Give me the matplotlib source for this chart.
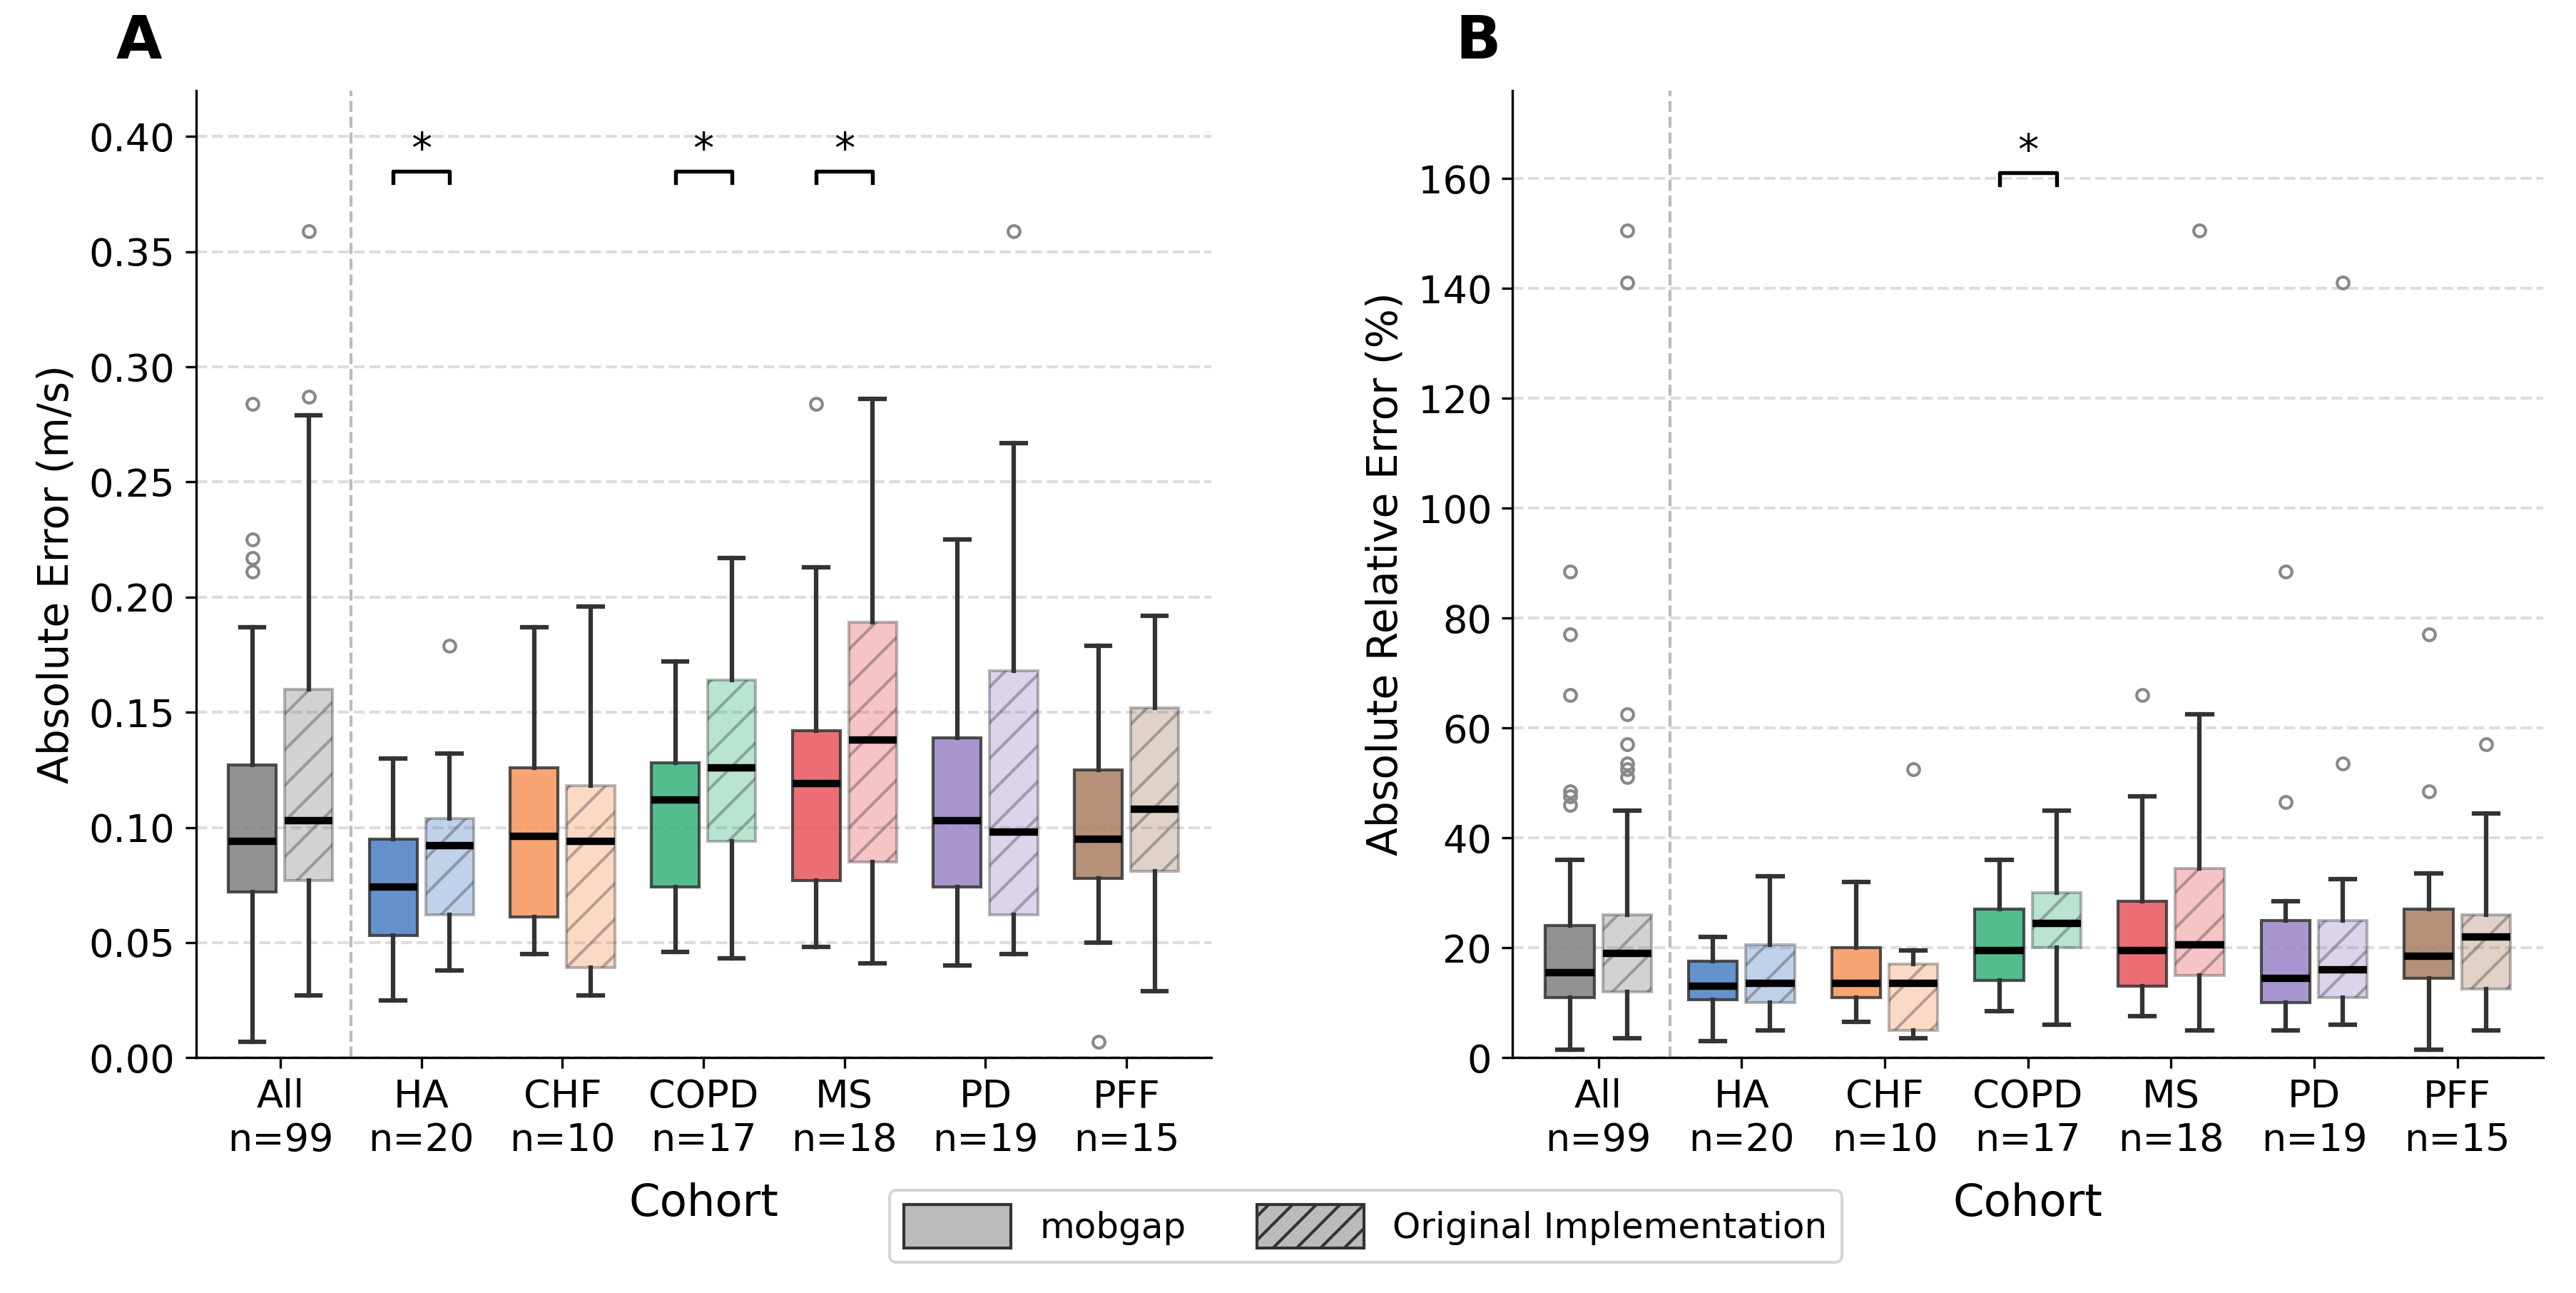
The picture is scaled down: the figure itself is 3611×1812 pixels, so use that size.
import matplotlib.pyplot as plt
from matplotlib.patches import Patch

cohorts = ["All", "HA", "CHF", "COPD", "MS", "PD", "PFF"]
counts = [99, 20, 10, 17, 18, 19, 15]
colors = ["#7f7f7f", "#4a7fc1", "#f6955a", "#35b27a", "#e8555d", "#9a84c6", "#a87e62"]

# [whislo, q1, med, q3, whishi]
abs_mobgap = [[0.007, 0.072, 0.094, 0.127, 0.187], [0.025, 0.053, 0.074, 0.095, 0.130],
              [0.045, 0.061, 0.096, 0.126, 0.187], [0.046, 0.074, 0.112, 0.128, 0.172],
              [0.048, 0.077, 0.119, 0.142, 0.213], [0.040, 0.074, 0.103, 0.139, 0.225],
              [0.050, 0.078, 0.095, 0.125, 0.179]]
abs_mobgap_fl = [[0.211, 0.217, 0.225, 0.284], [], [], [], [0.284], [], [0.007]]
abs_orig = [[0.027, 0.077, 0.103, 0.160, 0.279], [0.038, 0.062, 0.092, 0.104, 0.132],
            [0.027, 0.039, 0.094, 0.118, 0.196], [0.043, 0.094, 0.126, 0.164, 0.217],
            [0.041, 0.085, 0.138, 0.189, 0.286], [0.045, 0.062, 0.098, 0.168, 0.267],
            [0.029, 0.081, 0.108, 0.152, 0.192]]
abs_orig_fl = [[0.287, 0.359], [0.179], [], [], [], [0.359], []]

rel_mobgap = [[1.5, 11, 15.5, 24, 36], [3, 10.5, 13, 17.5, 22], [6.5, 11, 13.5, 20, 32],
              [8.5, 14, 19.5, 27, 36], [7.5, 13, 19.5, 28.5, 47.5], [5, 10, 14.5, 25, 28.5],
              [1.5, 14.5, 18.5, 27, 33.5]]
rel_mobgap_fl = [[46, 47.5, 48.5, 66, 77, 88.5], [], [], [], [66], [46.5, 88.5], [48.5, 77]]
rel_orig = [[3.5, 12, 19, 26, 45], [5, 10, 13.5, 20.5, 33], [3.5, 5, 13.5, 17, 19.5],
            [6, 20, 24.5, 30, 45], [5, 15, 20.5, 34.5, 62.5], [6, 11, 16, 25, 32.5],
            [5, 12.5, 22, 26, 44.5]]
rel_orig_fl = [[51, 52.5, 53.5, 57, 62.5, 141, 150.5], [], [52.5], [], [150.5], [53.5, 141], [57]]

abs_sig = ["HA", "COPD", "MS"]
rel_sig = ["COPD"]


def stats(vals, fl):
    return [dict(whislo=v[0], q1=v[1], med=v[2], q3=v[3], whishi=v[4], fliers=f)
            for v, f in zip(vals, fl)]


def draw(ax, m, mfl, o, ofl, sig, sig_y, ylim, ylabel, ticks):
    for data, fl, off, alpha, hatch in [(m, mfl, -0.2, 0.85, None), (o, ofl, 0.2, 0.35, "//")]:
        pos = [i + off for i in range(len(cohorts))]
        bp = ax.bxp(stats(data, fl), positions=pos, widths=0.34, patch_artist=True,
                    medianprops=dict(color="black", linewidth=2.5),
                    whiskerprops=dict(color="#333333", linewidth=1.5),
                    capprops=dict(color="#333333", linewidth=1.5),
                    flierprops=dict(marker="o", markersize=4, markerfacecolor="none",
                                    markeredgecolor="#888888"))
        for b, c in zip(bp["boxes"], colors):
            b.set_facecolor(c)
            b.set_alpha(alpha)
            b.set_edgecolor("#333333")
            if hatch:
                b.set_hatch(hatch)
    ax.axvline(0.5, color="#bbbbbb", linestyle="--", linewidth=1)
    h = (ylim[1] - ylim[0]) * 0.012
    for s in sig:
        i = cohorts.index(s)
        ax.plot([i - 0.2, i - 0.2, i + 0.2, i + 0.2], [sig_y - h, sig_y, sig_y, sig_y - h],
                color="black", linewidth=1.3)
        ax.text(i, sig_y, "*", ha="center", va="bottom", fontsize=14)
    ax.set_ylim(*ylim)
    ax.set_yticks(ticks)
    ax.set_xlim(-0.6, 6.6)
    ax.set_xticks(range(len(cohorts)))
    ax.set_xticklabels([f"{c}\nn={n}" for c, n in zip(cohorts, counts)], fontsize=13)
    ax.tick_params(axis="y", labelsize=13)
    ax.set_ylabel(ylabel, fontsize=14)
    ax.set_xlabel("Cohort", fontsize=15, labelpad=8)
    ax.grid(axis="y", linestyle="--", color="#dddddd", linewidth=1)
    ax.set_axisbelow(True)
    ax.spines["top"].set_visible(False)
    ax.spines["right"].set_visible(False)


fig = plt.figure(figsize=(12.04, 6.04), dpi=300)
ax1 = fig.add_axes([0.076, 0.182, 0.394, 0.748])
ax2 = fig.add_axes([0.587, 0.182, 0.400, 0.748])
draw(ax1, abs_mobgap, abs_mobgap_fl, abs_orig, abs_orig_fl, abs_sig, 0.385,
     (0, 0.42), "Absolute Error (m/s)", [i * 0.05 for i in range(9)])
ax1.yaxis.set_major_formatter(plt.FormatStrFormatter("%.2f"))
draw(ax2, rel_mobgap, rel_mobgap_fl, rel_orig, rel_orig_fl, rel_sig, 161,
     (0, 176), "Absolute Relative Error (%)", range(0, 161, 20))
fig.text(0.045, 0.955, "A", fontsize=20, fontweight="bold")
fig.text(0.565, 0.955, "B", fontsize=20, fontweight="bold")

handles = [Patch(facecolor="#bbbbbb", edgecolor="#333333", label="mobgap"),
           Patch(facecolor="#bbbbbb", edgecolor="#333333", hatch="///",
                 label="Original Implementation")]
fig.legend(handles=handles, loc="lower center", ncol=2, fontsize=12,
           bbox_to_anchor=(0.53, 0.01), handlelength=3, handleheight=1.5)
fig.savefig("out.png", dpi=300)
